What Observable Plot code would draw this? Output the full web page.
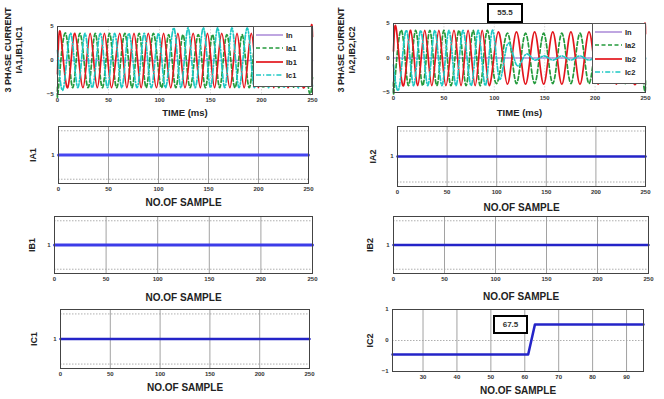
<!DOCTYPE html>
<html><head><meta charset="utf-8">
<script src="https://cdn.jsdelivr.net/npm/d3@7"></script>
<script src="https://cdn.jsdelivr.net/npm/@observablehq/plot@0.6"></script>
<style>
body{margin:0;background:#fff;}
#root{position:relative;width:664px;height:399px;overflow:hidden;font-family:"Liberation Sans",Arial,sans-serif;}
#root svg.pnl{position:absolute;left:0;top:0;}
.legend{position:absolute;background:#fff;border:1px solid #555;box-sizing:border-box;}
.note{position:absolute;border:2px solid #000;background:#fff;box-sizing:border-box;font:bold 8px "Liberation Sans",Arial,sans-serif;color:#333;text-align:center;}
.ylab{position:absolute;transform:translate(-50%,-50%) rotate(-90deg);white-space:nowrap;text-align:center;font:bold 9px/11px "Liberation Sans",Arial,sans-serif;color:#222;}
</style></head>
<body><div id="root"></div>
<script>
// ---------- data ----------
const timeTicks = [0, 50, 100, 150, 200, 250];
const currentTicks = [-5, 0, 5];
const legend1 = ["In", "Ia1", "Ib1", "Ic1"];
const legend2 = ["In", "Ia2", "Ib2", "Ic2"];
const seriesColors = ["#b497dc", "#249a3c", "#e3161d", "#1ec8c4"];
const topYLabels = [["3 PHASE CURRENT", "IA1,IB1,IC1"], ["3 PHASE CURRENT", "IA2,IB2,IC2"]];

// top-left currents (time ms, value) : extrema
const in1 = [[0,0],[250,0]];
const ia1w = [[0,-3.9],[1,-4],[8,4],[15,-4],[22,4],[30,-4],[37,4],[44,-4],[51,4],[58,-4],[66,4],[73,-4],[80,4],[87,-4],[94,4],[102,-4],[109,3.8],[116,-4],[123,3.8],[130,-4],[138,3.8],[145,-4],[152,3.8],[159,-4],[166,3.8],[174,-4],[181,3.8],[188,-4],[195,3.8],[202,-4],[210,3.8],[217,-4],[224,3.8],[231,-4],[238,3.8],[246,-4],[250,-2.5]];
const ib1w = [[0,-2],[3,4],[10,-4],[17,4],[25,-4],[32,4],[39,-4],[46,4],[53,-4],[61,4],[68,-4],[75,4],[82,-4],[89,4],[97,-4],[104,4],[111,-4],[118,4],[125,-4],[133,4],[140,-4],[147,4],[154,-4],[161,4],[169,-4],[176,4],[183,-4],[190,4],[197,-4],[205,4],[212,-4],[219,4],[226,-4],[233,4],[241,-4],[248,4],[250,3.5]];
const ic1w = [[0,1.5],[6,-4],[13,4],[20,-4],[27,4],[34,-4],[42,4],[49,-4],[56,4],[63,-4],[70,4],[78,-4],[85,4],[92,-4],[99,4],[106,-4],[114,4.8],[121,-4],[128,4.8],[135,-4],[143,4.8],[150,-4],[157,4.8],[164,-4],[171,4.8],[178,-4],[186,4.8],[193,-4],[200,4.8],[207,-4],[214,4.8],[222,-4],[229,4.8],[236,-4],[243,4.8],[250,-4]];

// top-right currents
const in2 = [[0,0],[250,0]];
const ia2w = [[0,-3.5],[1,-4],[8,4],[15,-4],[22,4],[29,-4],[36,4],[43,-4],[50,4],[57,-4],[65,4],[72,-4],[79,4],[86,-4],[93,4],[102,-3.7],[113,3.6],[122,-3.7],[131,3.6],[140,-3.7],[149,3.6],[158,-3.7],[167,3.6],[176,-3.7],[185,3.6],[194,-3.7],[203,3.6],[212,-3.7],[221,3.6],[230,-3.7],[239,3.6],[248,-3.7],[250,-3.3]];
const ib2w = [[0,1],[3,4],[10,-4],[17,4],[24,-4],[31,4],[38,-4],[45,4],[52,-4],[60,4],[67,-4],[74,4],[81,-4],[88,4],[95,-4],[104,3.8],[113,-3.8],[122,3.8],[131,-3.8],[140,3.8],[149,-3.8],[158,3.8],[167,-3.8],[176,3.8],[185,-3.8],[194,3.8],[203,-3.8],[212,3.8],[221,-3.8],[230,3.8],[239,-3.8],[248,3.8],[250,3.5]];
const ic2w = [[0,-1],[6,-4],[13,4],[20,-4],[27,4],[34,-4],[41,4],[48,-4],[55,4],[62,-4],[69,4],[77,-4],[84,4],[91,-4],[98,4],[105,-3],[113,2],[122,-1],[131,0.5],[140,-0.3],[149,0.3],[158,-0.3],[167,0.3],[176,-0.3],[185,0.3],[194,-0.3],[203,0.3],[212,-0.3],[221,0.3],[230,-0.3],[239,0.3],[248,-0.3],[250,0]];

// sample panels
const sampleTicks = [0, 50, 100, 150, 200, 250];
const sampleX = [0, 250];
const ia1Flag = [1, 1];
const ia2Flag = [1, 1];
const ib1Flag = [1, 1];
const ib2Flag = [1, 1];
const ic1Flag = [1, 1];
const flagTicks = [1];
const flagGrid = [0.15, 1.85];
const ic2Sample = [21, 61, 63, 95];
const ic2Value = [-0.45, -0.45, 0.52, 0.52];
const ic2XTicks = [30, 40, 50, 60, 70, 80, 90];
const ic2YTicks = [-1, 0, 1];
const notes = ["55.5", "67.5"];

// ---------- drawing ----------
const W = 664, H = 399;
const root = document.getElementById("root");
const FONT = '"Liberation Sans", Arial, sans-serif';

function toRows(pairs){ return pairs.map(([t, v]) => ({t, v})); }

function panel(o){
  const [L, T, R, B] = o.frame;
  const svg = Plot.plot({
    width: W, height: H,
    marginLeft: L, marginTop: T, marginRight: W - R, marginBottom: H - B,
    x: {domain: o.xDomain, label: null},
    y: {domain: o.yDomain, label: null},
    style: {fontFamily: FONT, fontWeight: "bold", fontSize: "6px", background: "transparent", color: "#333", overflow: "visible"},
    marks: [
      Plot.gridX(o.xGrid, {stroke: o.gridColor || "#8a8a8a", strokeOpacity: 1, strokeWidth: 0.8, strokeDasharray: o.gridDash || null}),
      Plot.gridY(o.yGrid || [], {stroke: "#9a9a9a", strokeOpacity: 1, strokeWidth: 0.8, strokeDasharray: "1.5,1.5"}),
      ...o.marks,
      Plot.frame({stroke: "#444", strokeWidth: 1}),
      Plot.axisX(o.xTicks, {tickSize: 0, tickPadding: o.xPad ?? 3, label: o.xLabel, labelAnchor: "center", labelArrow: "none", labelOffset: o.xLabelOffset, fontSize: 6}),
      Plot.axisY(o.yTicks, {tickSize: 0, tickPadding: o.yPad ?? 4, label: o.yLabel ?? null, labelAnchor: "center", labelArrow: "none", labelOffset: o.yLabelOffset, fontSize: 6})
    ]
  });
  svg.classList.add("pnl");
  svg.style.pointerEvents = "none";
  root.appendChild(svg);
  svg.querySelectorAll("[aria-label='x-axis label'] text").forEach(t => { t.style.fontSize = o.xLabelSize || "10px"; t.style.fill = "#222"; });
  svg.querySelectorAll("[aria-label='y-axis label'] text").forEach(t => { t.style.fontSize = o.yLabelSize || "9px"; t.style.fill = "#222"; });
  return svg;
}

function waveMarks(list){
  const dashes = [null, "4,2.5", null, "5,2,1.2,2"];
  return list.map((s, i) => Plot.line(toRows(s), {x: "t", y: "v", stroke: seriesColors[i], strokeWidth: 1.7, strokeDasharray: dashes[i], curve: "natural"}));
}

function addLegend(names, box, rowsY){
  const [x, y, w, h] = box;
  const div = document.createElement("div");
  div.className = "legend";
  Object.assign(div.style, {left: x + "px", top: y + "px", width: w + "px", height: h + "px"});
  const dashes = [null, "4,2.5", null, "5,2,1.2,2"];
  const svg = d3.create("svg").attr("width", w - 2).attr("height", h - 2);
  names.forEach((n, i) => {
    const yy = rowsY[i];
    svg.append("line").attr("x1", 2).attr("x2", 29).attr("y1", yy).attr("y2", yy)
      .attr("stroke", seriesColors[i]).attr("stroke-width", 1.7).attr("stroke-dasharray", dashes[i]);
    svg.append("text").attr("x", 32).attr("y", yy).attr("dy", "0.35em")
      .attr("font-family", FONT).attr("font-weight", "bold").attr("font-size", 7.5).attr("fill", "#222").text(n);
  });
  div.appendChild(svg.node());
  root.appendChild(div);
}

function addNote(text, box){
  const [x, y, w, h] = box;
  const div = document.createElement("div");
  div.className = "note";
  Object.assign(div.style, {left: x + "px", top: y + "px", width: w + "px", height: h + "px", lineHeight: (h - 4) + "px"});
  div.textContent = text;
  root.appendChild(div);
}

function addYLabel(lines, cx, cy){
  const div = document.createElement("div");
  div.className = "ylab";
  Object.assign(div.style, {left: cx + "px", top: cy + "px"});
  div.innerHTML = lines.map(l => `<div>${l}</div>`).join("");
  root.appendChild(div);
}

// top-left
panel({frame: [57, 26, 312, 94], xDomain: [0, 250], yDomain: [-5, 5], xTicks: timeTicks, yTicks: currentTicks,
  xGrid: timeTicks, yGrid: [0], gridColor: "#d0d0d0", gridDash: "1.5,1.5",
  marks: waveMarks([in1, ia1w, ib1w, ic1w]),
  xLabel: "TIME (ms)", xLabelOffset: 21, xLabelSize: "9.5px"});
// top-right
panel({frame: [393, 23, 645, 92], xDomain: [0, 250], yDomain: [-5, 5], xTicks: timeTicks, yTicks: currentTicks,
  xGrid: timeTicks, yGrid: [0], gridColor: "#d0d0d0", gridDash: "1.5,1.5",
  marks: waveMarks([in2, ia2w, ib2w, ic2w]),
  xLabel: "TIME (ms)", xLabelOffset: 23, xLabelSize: "9.5px"});

function flagPanel(frame, ys, label, color, sw, xOff, yOff){
  panel({frame, xDomain: [0, 250], yDomain: [0, 2], xTicks: sampleTicks, yTicks: flagTicks,
    xGrid: sampleTicks.slice(1, -1), yGrid: flagGrid,
    marks: [Plot.line(sampleX.map((s, i) => ({s, v: ys[i]})), {x: "s", y: "v", stroke: color, strokeWidth: sw})],
    xLabel: "NO.OF SAMPLE", xLabelOffset: xOff, yLabel: label, yLabelOffset: yOff});
}
flagPanel([58, 126, 308, 183], ia1Flag, "IA1", "#4646f0", 3, 22, 29);
flagPanel([397, 126, 645, 186], ia2Flag, "IA2", "#2424c8", 2.5, 24, 28);
flagPanel([54, 216, 312, 273], ib1Flag, "IB1", "#3c3ce8", 3, 27, 26);
flagPanel([393, 216, 648, 273], ib2Flag, "IB2", "#2424c8", 2.5, 26, 27);
flagPanel([60, 309, 309, 368], ic1Flag, "IC1", "#2424c8", 2.5, 22, 30);

// bottom-right IC2
panel({frame: [392, 309, 643, 371], xDomain: [21, 95], yDomain: [-1, 1], xTicks: ic2XTicks, yTicks: ic2YTicks,
  xGrid: ic2XTicks, yGrid: [0],
  marks: [Plot.line(ic2Sample.map((s, i) => ({s, v: ic2Value[i]})), {x: "s", y: "v", stroke: "#2424c8", strokeWidth: 2.5})],
  xLabel: "NO.OF SAMPLE", xLabelOffset: 22, yLabel: "IC2", yLabelOffset: 26});

addYLabel(topYLabels[0], 14, 50);
addYLabel(topYLabels[1], 347, 50);
addLegend(legend1, [253, 26, 59, 61], [8, 21, 35, 48]);
addLegend(legend2, [592, 23, 54, 61], [8, 21, 35, 48]);
addNote(notes[0], [487, 3, 36, 20]);
addNote(notes[1], [493, 315, 35, 19]);
</script></body></html>
